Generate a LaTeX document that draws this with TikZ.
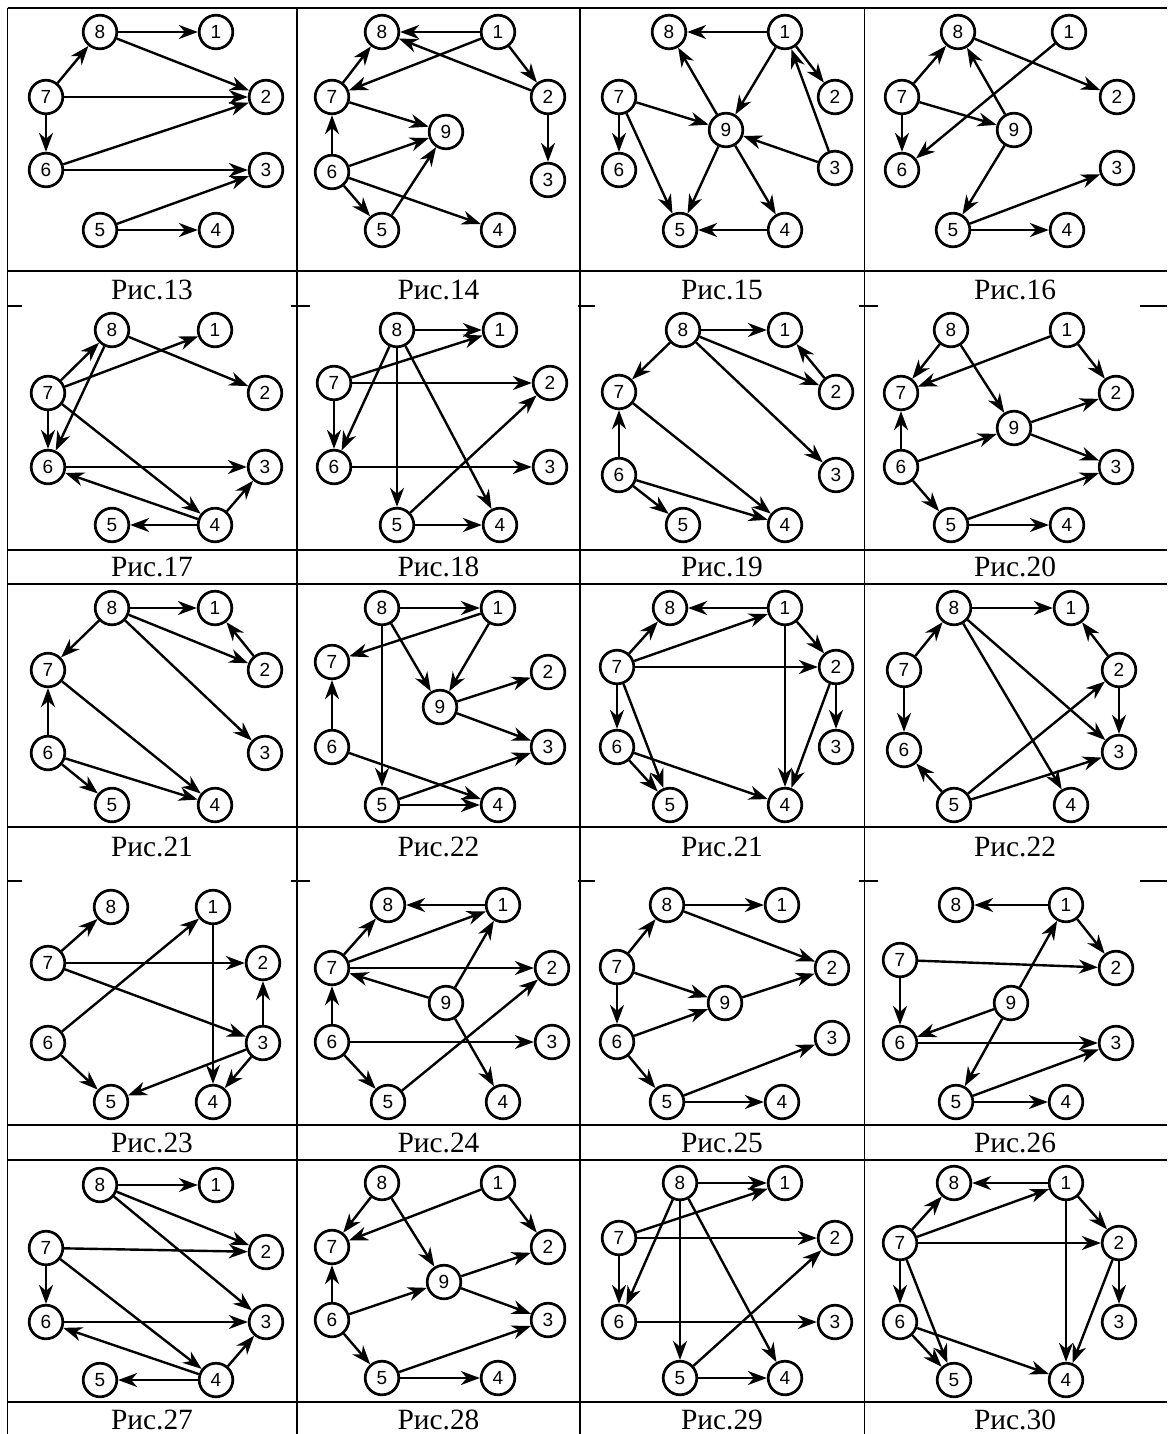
\documentclass[tikz,border=0pt]{standalone}
\usepackage{fontspec}
\setmainfont{Liberation Serif}
\newfontfamily\digitfont{Liberation Sans}
\usetikzlibrary{arrows.meta}

\tikzset{
  vtx/.style={circle,draw,line width=1.35pt,minimum size=16.8pt,inner sep=0pt,
    font=\digitfont\fontsize{9.5}{10}\selectfont},
  arr/.style={line width=1.2pt,-{Stealth[length=9.5pt,width=7pt,inset=3pt]}},
  tline/.style={line width=0.7pt},
  captext/.style={font=\fontsize{14.7}{16}\selectfont,inner sep=0pt}
}

\begin{document}
\begin{tikzpicture}[x=0.5pt,y=-0.5pt]
  \useasboundingbox (0,0) rectangle (1167,1434);

  % table frame
  \foreach \x in {7.5,297,580,864.6}
    \draw[tline] (\x,8) -- (\x,1434);
  \foreach \y in {8,271,550,584,827,1125,1160,1402}
    \draw[tline] (7.5,\y) -- (1167,\y);
  \foreach \y in {306,881}
    \foreach \a/\b in {7.5/22,291/310,578/595,859/878,1140/1167}
      \draw[tline] (\a,\y) -- (\b,\y);

  % captions
  \foreach \y/\r/\list in {290/1/{13,14,15,16},567/2/{17,18,19,20},
      847/3/{21,22,21,22},1143/4/{23,24,25,26},1420/5/{27,28,29,30}}
    \foreach \t [count=\i] in \list {
      \pgfmathsetmacro\cx{{152,438.5,722,1015}[\i-1]}
      \node[captext] (cap-\r-\i) at (\cx,\y) {Рис.\t};
    }

  % Рис.13
  \begin{scope}[shift={(0,0)},name prefix=f13-]
    \foreach \n/\x/\y in {8/100/32,1/216/32,7/46/97,2/266/97,6/46/170,3/266/170,5/100/230,4/216/230}
      \node[vtx] (n\n) at (\x,\y) {\n};
    \foreach \u/\v in {8/1,8/2,7/8,7/2,7/6,6/2,6/3,5/3,5/4}
      \draw[arr] (n\u) -- (n\v);
  \end{scope}

  % Рис.14
  \begin{scope}[shift={(283,0)},name prefix=f14-]
    \foreach \n/\x/\y in {8/99/32,1/215/32,7/49/97,2/265/97,9/163/132,6/49/172,3/265/180,5/99/230,4/215/230}
      \node[vtx] (n\n) at (\x,\y) {\n};
    \foreach \u/\v in {1/8,2/8,1/7,1/2,7/8,7/9,6/7,6/9,5/9,6/5,6/4,2/3}
      \draw[arr] (n\u) -- (n\v);
  \end{scope}

  % Рис.15
  \begin{scope}[shift={(568,0)},name prefix=f15-]
    \foreach \n/\x/\y in {8/101/32,1/217/32,7/51/97,2/267/97,9/158/130,6/51/170,3/267/168,5/112/230,4/217/230}
      \node[vtx] (n\n) at (\x,\y) {\n};
    \foreach \u/\v in {1/8,9/8,1/9,1/2,3/1,7/9,7/6,7/5,3/9,9/5,9/4,4/5}
      \draw[arr] (n\u) -- (n\v);
  \end{scope}

  % Рис.16
  \begin{scope}[shift={(853,0)},name prefix=f16-]
    \foreach \n/\x/\y in {8/105/32,1/216/32,7/49/97,2/264/97,9/161/130,6/49/170,3/264/168,5/100/230,4/214/230}
      \node[vtx] (n\n) at (\x,\y) {\n};
    \foreach \u/\v in {7/8,8/2,1/6,9/8,7/9,7/6,9/5,5/3,5/4}
      \draw[arr] (n\u) -- (n\v);
  \end{scope}

  % Рис.17
  \begin{scope}[shift={(0,298)},name prefix=f17-]
    \foreach \n/\x/\y in {8/112/32,1/215/32,7/48/95,2/265/95,6/48/169,3/265/169,5/112/227,4/215/227}
      \node[vtx] (n\n) at (\x,\y) {\n};
    \foreach \u/\v in {7/8,8/6,7/1,8/2,7/6,7/4,6/3,4/6,4/3,4/5}
      \draw[arr] (n\u) -- (n\v);
  \end{scope}

  % Рис.18
  \begin{scope}[shift={(283,298)},name prefix=f18-]
    \foreach \n/\x/\y in {8/114/32,1/217/32,7/51/85,2/267/85,6/51/169,3/267/169,5/114/227,4/217/227}
      \node[vtx] (n\n) at (\x,\y) {\n};
    \foreach \u/\v in {8/1,7/1,7/2,8/6,8/5,8/4,7/6,6/3,5/2,5/4}
      \draw[arr] (n\u) -- (n\v);
  \end{scope}

  % Рис.19
  \begin{scope}[shift={(568,298)},name prefix=f19-]
    \foreach \n/\x/\y in {8/115/32,1/217/32,7/51/94,2/268/94,6/51/177,3/268/177,5/115/227,4/217/227}
      \node[vtx] (n\n) at (\x,\y) {\n};
    \foreach \u/\v in {8/1,8/7,8/2,2/1,8/3,7/4,6/7,6/5,6/4}
      \draw[arr] (n\u) -- (n\v);
  \end{scope}

  % Рис.20
  \begin{scope}[shift={(853,298)},name prefix=f20-]
    \foreach \n/\x/\y in {8/98/32,1/214/32,7/48/95,2/263/95,9/161/130,6/48/169,3/263/169,5/98/227,4/214/227}
      \node[vtx] (n\n) at (\x,\y) {\n};
    \foreach \u/\v in {8/7,1/7,1/2,8/9,6/7,6/9,9/2,9/3,6/5,5/3,5/4}
      \draw[arr] (n\u) -- (n\v);
  \end{scope}

  % Рис.21 (left)
  \begin{scope}[shift={(0,576)},name prefix=f21a-]
    \foreach \n/\x/\y in {8/112/32,1/215/32,7/48/94,2/265/94,6/48/177,3/265/177,5/112/229,4/215/229}
      \node[vtx] (n\n) at (\x,\y) {\n};
    \foreach \u/\v in {8/1,8/7,8/2,2/1,8/3,7/4,6/7,6/5,6/4}
      \draw[arr] (n\u) -- (n\v);
  \end{scope}

  % Рис.22 (left)
  \begin{scope}[shift={(283,576)},name prefix=f22a-]
    \foreach \n/\x/\y in {8/99/32,1/215/32,7/49/86,2/265/96,9/157/131,6/49/171,3/265/171,5/99/229,4/215/229}
      \node[vtx] (n\n) at (\x,\y) {\n};
    \foreach \u/\v in {8/1,1/7,1/9,8/9,8/5,9/2,9/3,6/7,6/4,5/3,5/4}
      \draw[arr] (n\u) -- (n\v);
  \end{scope}

  % Рис.21 (right)
  \begin{scope}[shift={(568,576)},name prefix=f21b-]
    \foreach \n/\x/\y in {8/102/32,1/217/32,7/49/91,2/268/91,6/49/171,3/268/171,5/102/229,4/217/229}
      \node[vtx] (n\n) at (\x,\y) {\n};
    \foreach \u/\v in {1/8,7/8,7/1,1/2,7/2,1/4,2/4,2/3,7/6,7/5,6/5,6/4}
      \draw[arr] (n\u) -- (n\v);
  \end{scope}

  % Рис.22 (right)
  \begin{scope}[shift={(853,576)},name prefix=f22b-]
    \foreach \n/\x/\y in {8/101/32,1/218/32,7/51/94,2/266/94,6/51/174,3/266/176,5/101/229,4/218/229}
      \node[vtx] (n\n) at (\x,\y) {\n};
    \foreach \u/\v in {8/1,2/1,7/8,7/6,2/3,8/3,8/4,5/6,5/2,5/3}
      \draw[arr] (n\u) -- (n\v);
  \end{scope}

  % Рис.23
  \begin{scope}[shift={(0,874)},name prefix=f23-]
    \foreach \n/\x/\y in {8/111/33,1/213/33,7/48/89,2/263/89,6/48/169,3/263/169,5/111/228,4/213/228}
      \node[vtx] (n\n) at (\x,\y) {\n};
    \foreach \u/\v in {7/8,7/2,7/3,6/1,1/4,3/2,3/5,3/4,6/5}
      \draw[arr] (n\u) -- (n\v);
  \end{scope}

  % Рис.24
  \begin{scope}[shift={(283,874)},name prefix=f24-]
    \foreach \n/\x/\y in {8/105/31,1/220/31,7/49/94,2/269/94,9/163/129,6/49/168,3/269/168,5/105/228,4/220/228}
      \node[vtx] (n\n) at (\x,\y) {\n};
    \foreach \u/\v in {1/8,7/8,7/1,7/2,9/7,9/1,9/4,6/7,6/3,6/5,5/2}
      \draw[arr] (n\u) -- (n\v);
  \end{scope}

  % Рис.25
  \begin{scope}[shift={(568,874)},name prefix=f25-]
    \foreach \n/\x/\y in {8/99/31,1/214/31,7/49/93,2/264/94,9/157/129,6/49/168,3/264/164,5/99/228,4/214/228}
      \node[vtx] (n\n) at (\x,\y) {\n};
    \foreach \u/\v in {8/1,8/2,7/8,7/9,7/6,9/2,6/9,6/5,5/3,5/4}
      \draw[arr] (n\u) -- (n\v);
  \end{scope}

  % Рис.26
  \begin{scope}[shift={(853,874)},name prefix=f26-]
    \foreach \n/\x/\y in {8/103/31,1/213/31,7/47/86,2/263/94,9/158/129,6/47/169,3/263/169,5/103/228,4/213/228}
      \node[vtx] (n\n) at (\x,\y) {\n};
    \foreach \u/\v in {1/8,1/2,7/2,7/6,9/1,9/6,9/5,6/3,5/3,5/4}
      \draw[arr] (n\u) -- (n\v);
  \end{scope}

  % Рис.27
  \begin{scope}[shift={(0,1152)},name prefix=f27-]
    \foreach \n/\x/\y in {8/100/33,1/216/33,7/46/96,2/266/100,6/46/170,3/266/170,5/100/228,4/216/228}
      \node[vtx] (n\n) at (\x,\y) {\n};
    \foreach \u/\v in {8/1,8/2,8/3,7/2,7/6,7/4,6/3,4/6,4/3,4/5}
      \draw[arr] (n\u) -- (n\v);
  \end{scope}

  % Рис.28
  \begin{scope}[shift={(283,1152)},name prefix=f28-]
    \foreach \n/\x/\y in {8/99/31,1/215/31,7/49/95,2/265/95,9/161/130,6/49/168,3/265/168,5/99/226,4/215/226}
      \node[vtx] (n\n) at (\x,\y) {\n};
    \foreach \u/\v in {8/7,1/7,1/2,8/9,6/7,6/9,9/2,9/3,6/5,5/3,5/4}
      \draw[arr] (n\u) -- (n\v);
  \end{scope}

  % Рис.29
  \begin{scope}[shift={(568,1152)},name prefix=f29-]
    \foreach \n/\x/\y in {8/112/31,1/217/31,7/51/86,2/267/86,6/51/170,3/267/170,5/112/226,4/217/226}
      \node[vtx] (n\n) at (\x,\y) {\n};
    \foreach \u/\v in {8/1,7/1,7/2,8/6,8/5,8/4,7/6,6/3,5/2,5/4}
      \draw[arr] (n\u) -- (n\v);
  \end{scope}

  % Рис.30
  \begin{scope}[shift={(853,1152)},name prefix=f30-]
    \foreach \n/\x/\y in {8/101/31,1/213/31,7/47/91,2/266/91,6/47/170,3/266/170,5/101/228,4/213/228}
      \node[vtx] (n\n) at (\x,\y) {\n};
    \foreach \u/\v in {1/8,7/8,7/1,1/2,7/2,1/4,2/4,2/3,7/6,7/5,6/5,6/4}
      \draw[arr] (n\u) -- (n\v);
  \end{scope}
\end{tikzpicture}
\end{document}
